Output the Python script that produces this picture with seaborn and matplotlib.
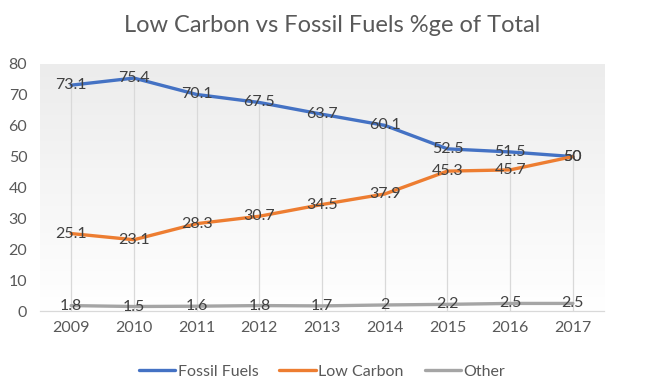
import numpy as np
import pandas as pd
import seaborn as sns
import matplotlib.pyplot as plt

years = ['2009', '2010', '2011', '2012', '2013', '2014', '2015', '2016', '2017']
fossil = [73.1, 75.4, 70.1, 67.5, 63.7, 60.1, 52.5, 51.5, 50]
low_carbon = [25.1, 23.1, 28.3, 30.7, 34.5, 37.9, 45.3, 45.7, 50]
other = [1.8, 1.5, 1.6, 1.8, 1.7, 2, 2.2, 2.5, 2.5]
series_names = ['Fossil Fuels', 'Low Carbon', 'Other']
colors = ['#4472C4', '#ED7D31', '#A5A5A5']

# long-form table for seaborn
df = pd.DataFrame({
    'Year': years * 3,
    'Value': fossil + low_carbon + other,
    'Series': np.repeat(series_names, len(years)),
})

sns.set_theme(style='white')
plt.rcParams['font.family'] = ['Lato', 'DejaVu Sans']

fig = plt.figure(figsize=(6.64, 3.87), dpi=100)
ax = fig.add_axes([0.060, 0.196, 0.850, 0.639])

# plot area gradient (white -> light grey)
grad = np.linspace(0, 1, 256).reshape(-1, 1)
ax.imshow(grad, extent=[-0.5, 8.5, 0, 80], aspect='auto', origin='upper',
          cmap=sns.blend_palette(['#ececec', '#ffffff'], as_cmap=True),
          zorder=0, vmin=0, vmax=1)

# drop lines from highest point to axis
tops = [max(a, b, c) for a, b, c in zip(fossil, low_carbon, other)]
ax.vlines(range(len(years)), 0, tops, color='#d9d9d9', lw=0.9, zorder=1)

sns.lineplot(data=df, x='Year', y='Value', hue='Series', palette=colors,
             linewidth=2.4, ax=ax, zorder=3, sort=False)

# data labels centred on points
for vals in [fossil, low_carbon, other]:
    for i, v in enumerate(vals):
        ax.text(i, v, f'{v:g}', ha='center', va='center', fontsize=11.5,
                color='#404040', zorder=4)

ax.set_xlim(-0.5, 8.5)
ax.set_ylim(0, 80)
ax.set_yticks(range(0, 81, 10))
ax.set_xlabel('')
ax.set_ylabel('')
ax.tick_params(axis='both', length=0, labelsize=11.5, colors='#595959')
ax.tick_params(axis='y', pad=9)
ax.tick_params(axis='x', pad=7)
for s in ['top', 'right', 'left']:
    ax.spines[s].set_visible(False)
ax.spines['bottom'].set_color('#d9d9d9')
ax.spines['bottom'].set_linewidth(0.9)

handles, labels = ax.get_legend_handles_labels()
ax.legend(handles, labels, loc='center', bbox_to_anchor=(0.5, -0.245),
          ncol=3, frameon=False, fontsize=11.5, handlelength=2.3,
          handletextpad=0.15, columnspacing=1.3, labelcolor='#595959')

fig.text(0.5, 0.935, 'Low Carbon vs Fossil Fuels %ge of Total', ha='center',
         va='center', fontsize=17, color='#595959')

fig.savefig('out.png', dpi=100)
